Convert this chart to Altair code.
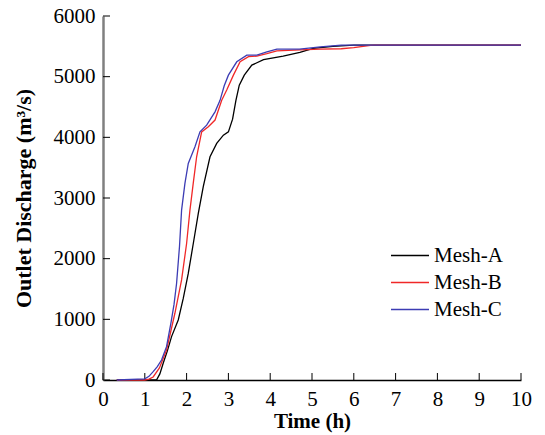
import altair as alt
import pandas as pd

# Mesh-A
t_a = [0.33, 1.28, 1.36, 1.44, 1.54, 1.64, 1.8, 1.92, 2.04, 2.16, 2.28, 2.4, 2.56, 2.72, 2.88, 3.0, 3.1, 3.18, 3.26, 3.38, 3.56, 3.84, 4.31, 4.71, 5.03, 5.5, 6.0, 10.0]
q_a = [0, 0, 100, 275, 480, 715, 990, 1345, 1757, 2250, 2745, 3190, 3680, 3900, 4035, 4090, 4300, 4610, 4860, 5025, 5190, 5280, 5340, 5400, 5465, 5500, 5520, 5520]
# Mesh-B
t_b = [0.33, 1.0, 1.1, 1.2, 1.35, 1.52, 1.72, 1.88, 2.0, 2.08, 2.16, 2.24, 2.36, 2.52, 2.68, 2.84, 2.96, 3.12, 3.28, 3.48, 3.68, 3.92, 4.16, 4.71, 5.2, 5.7, 6.0, 6.4, 6.5, 10.0]
q_b = [0, 0, 15, 50, 200, 495, 1100, 1650, 2250, 2800, 3250, 3680, 4090, 4175, 4285, 4610, 4780, 5025, 5245, 5330, 5340, 5380, 5425, 5440, 5455, 5460, 5480, 5515, 5520, 5520]
# Mesh-C
t_c = [0.33, 1.0, 1.1, 1.2, 1.3, 1.4, 1.52, 1.63, 1.7, 1.76, 1.83, 1.88, 1.96, 2.04, 2.2, 2.32, 2.48, 2.68, 2.8, 2.9, 3.0, 3.2, 3.44, 3.68, 3.92, 4.16, 4.7, 5.2, 5.7, 10.0]
q_c = [0, 20, 60, 137, 220, 330, 550, 960, 1250, 1590, 2200, 2800, 3240, 3570, 3845, 4090, 4200, 4420, 4610, 4850, 5025, 5245, 5355, 5355, 5410, 5455, 5455, 5490, 5520, 5520]

series = ["Mesh-A", "Mesh-B", "Mesh-C"]
colors = ["#000000", "#f02828", "#3c3cb4"]
x_ticks = [0, 1, 2, 3, 4, 5, 6, 7, 8, 9, 10]
y_ticks = [0, 1000, 2000, 3000, 4000, 5000, 6000]

rows = []
for name, ts, qs in zip(series, [t_a, t_b, t_c], [q_a, q_b, q_c]):
    for i, (t, q) in enumerate(zip(ts, qs)):
        rows.append({"Time": t, "Q": q, "Mesh": name, "order": i})
df = pd.DataFrame(rows)

W, H = 418, 364
SERIF = "Liberation Serif"

xscale = alt.Scale(domain=[0, 10], nice=False)
yscale = alt.Scale(domain=[0, 6000], nice=False)

lines = alt.Chart(df).mark_line(strokeWidth=1.3).encode(
    x=alt.X("Time:Q", scale=xscale, title="Time (h)",
            axis=alt.Axis(values=x_ticks, format="d", tickSize=0, domainColor="#000000",
                          domainWidth=1.5, labelPadding=8, titlePadding=1, grid=False,
                          labelFlush=False, labelFont=SERIF, labelFontSize=21,
                          labelColor="#000000", titleFont=SERIF, titleFontSize=21,
                          titleFontWeight="bold", titleColor="#000000")),
    y=alt.Y("Q:Q", scale=yscale, title="Outlet Discharge (m³/s)",
            axis=alt.Axis(values=y_ticks, format="d", tickSize=0, domainColor="#808080",
                          domainWidth=2.5, labelPadding=8, titlePadding=18, grid=False,
                          labelFlush=False, labelFont=SERIF, labelFontSize=21,
                          labelColor="#000000", titleFont=SERIF, titleFontSize=22,
                          titleFontWeight="bold", titleColor="#000000")),
    color=alt.Color("Mesh:N", scale=alt.Scale(domain=series, range=colors),
                    legend=alt.Legend(title=None, orient="none", legendX=287, legendY=226,
                                      symbolType="stroke", symbolSize=1444, symbolStrokeWidth=1.5,
                                      clipHeight=27, rowPadding=0, labelFont=SERIF,
                                      labelFontSize=21, labelColor="#000000", labelOffset=4)),
    order="order:Q",
)

xt = pd.DataFrame({"v": x_ticks})
yt = pd.DataFrame({"v": y_ticks})

xticks = alt.Chart(xt).mark_rule(color="#000000", strokeWidth=1).encode(
    x=alt.X("v:Q", scale=xscale), y=alt.value(H), y2=alt.value(H - 7))
yticks = alt.Chart(yt).mark_rule(color="#000000", strokeWidth=1).encode(
    y=alt.Y("v:Q", scale=yscale), x=alt.value(0), x2=alt.value(7))

chart = alt.layer(xticks, yticks, lines).properties(
    width=W, height=H,
    padding={"left": 103, "top": 16, "right": 24, "bottom": 55},
    autosize=alt.AutoSizeParams(type="none"),
).configure_view(stroke=None)

chart.save("out.html", embed_options={"renderer": "svg", "actions": False})
